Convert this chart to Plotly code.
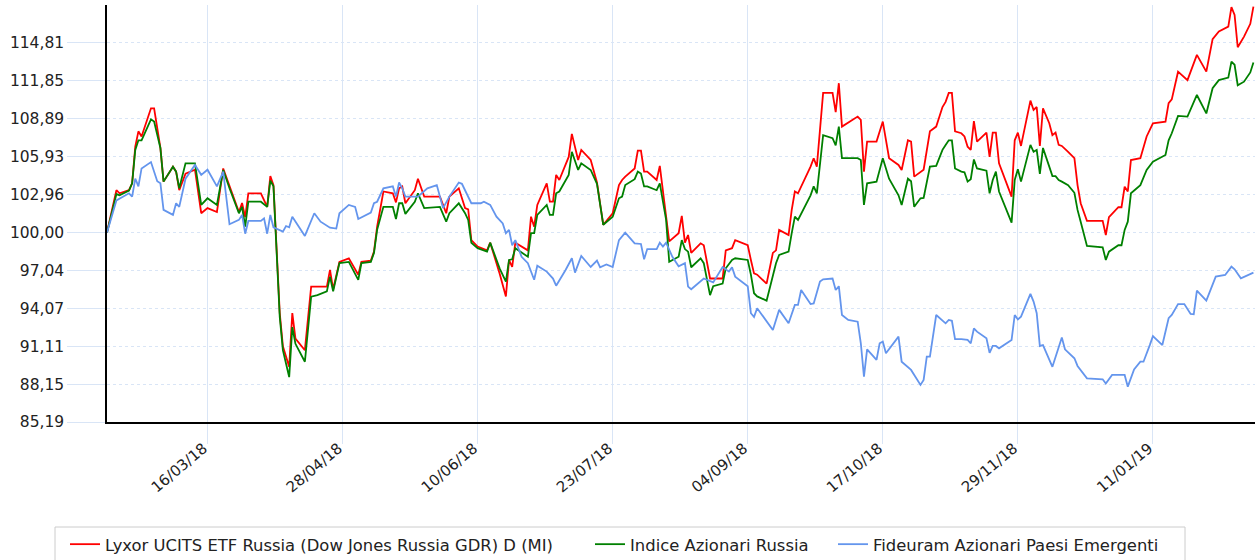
import pandas as pd
import plotly.graph_objects as go

base_date = pd.Timestamp("2018-02-12")

# day offsets from base_date shared by the two Russia series
rg_days = [0, 3, 4, 7, 8, 9, 10, 11, 14, 15, 17, 18, 21, 22, 23, 25, 28, 30, 32, 35,
           37, 39, 42, 43, 44, 45, 49, 51, 52, 53, 55, 56, 58, 59, 60, 63, 65, 67, 70, 71,
           72, 74, 77, 80, 81, 84, 85, 86, 88, 91, 92, 93, 94, 95, 98, 99, 101, 106, 108, 109,
           112, 114, 115, 116, 118, 121, 122, 124, 125, 127, 128, 129, 130, 134, 135, 136, 137, 140, 141, 142,
           143, 144, 147, 148, 150, 151, 154, 156, 158, 161, 163, 164, 165, 168, 169, 170, 171, 172, 175, 176,
           178, 179, 182, 183, 184, 185, 186, 189, 190, 192, 193, 196, 197, 199, 200, 204, 205, 206, 207, 210,
           212, 213, 214, 217, 218, 219, 220, 222, 224, 225, 226, 228, 231, 232, 233, 234, 239, 240, 241, 242,
           245, 247, 249, 252, 253, 255, 256, 257, 259, 260, 262, 264, 266, 267, 268, 269, 270, 272, 273, 274,
           275, 276, 277, 280, 281, 282, 283, 284, 288, 289, 290, 291, 294, 295, 296, 297, 298, 300, 301, 302,
           303, 304, 306, 308, 309, 310, 312, 317, 318, 319, 322, 323, 324, 325, 326, 329, 331, 333, 337, 338,
           339, 341, 344, 347, 350, 352, 354, 357, 358, 359, 360, 362, 364, 365]

lyxor = [100.0, 103.3, 103.06, 103.3, 103.84, 106.7, 107.9, 107.5, 109.7, 109.7, 106.6, 103.97, 105.14, 104.75, 103.3, 104.6, 104.9, 101.5, 101.9, 101.6,
         105.0, 103.6, 101.6, 102.3, 101.2, 103.06, 103.06, 102.0, 104.4, 103.7, 93.7, 91.1, 89.5, 93.7, 91.7, 90.8, 95.77, 95.77, 95.77, 97.07,
         95.56, 97.7, 97.98, 96.7, 97.7, 97.8, 98.5, 100.45, 103.2, 103.06, 102.35, 103.45, 103.6, 102.28, 103.3, 104.2, 102.8, 102.8, 101.5, 102.8,
         103.45, 101.9, 101.8, 99.4, 98.9, 98.6, 99.2, 97.6, 96.8, 95.0, 97.85, 97.3, 99.2, 98.6, 101.23, 100.45, 102.15, 103.84, 102.4, 102.4,
         104.5, 104.1, 105.9, 107.7, 105.66, 106.45, 105.66, 103.9, 100.6, 101.5, 103.7, 104.1, 104.36, 105.0, 106.4, 106.4, 104.75, 104.75, 104.1, 105.2,
         101.5, 99.3, 99.94, 101.3, 99.2, 99.8, 98.4, 99.15, 99.0, 96.4, 96.4, 96.4, 98.6, 98.77, 99.4, 99.0, 97.85, 96.8, 96.7, 96.0,
         98.4, 98.6, 100.2, 99.8, 101.76, 103.2, 103.06, 104.1, 105.14, 105.8, 105.14, 110.9, 110.9, 109.4, 111.66, 108.27, 109.05, 108.8, 104.75, 107.1,
         107.1, 108.66, 105.8, 105.27, 104.88, 107.2, 107.1, 104.36, 104.75, 104.9, 107.9, 108.27, 109.8, 110.2, 110.9, 110.9, 107.9, 107.75, 107.5, 106.7,
         106.45, 108.7, 107.1, 107.8, 105.9, 107.8, 107.8, 105.4, 102.8, 107.2, 107.8, 106.76, 110.3, 109.57, 109.8, 106.76, 109.7, 108.53, 107.6, 107.8,
         106.84, 106.76, 106.3, 105.8, 103.7, 102.28, 100.9, 100.9, 99.8, 101.19, 101.97, 101.97, 103.58, 103.2, 105.66, 105.8, 107.5, 108.53, 108.66, 110.1,
         110.4, 112.56, 111.9, 113.87, 112.56, 115.1, 115.7, 116.08, 117.6, 117.0, 114.47, 115.3, 116.3, 117.64]

indice_russia = [100.0, 103.0, 102.9, 103.27, 103.84, 106.45, 107.2, 107.2, 108.84, 108.66, 106.6, 103.97, 105.14, 104.75, 103.45, 105.4, 105.4, 102.15, 102.67, 102.15,
                 104.88, 103.45, 101.5, 102.0, 100.45, 102.4, 102.4, 102.0, 104.05, 103.6, 93.4, 90.8, 88.7, 92.6, 91.3, 89.9, 94.98, 95.1, 95.4, 96.55,
                 95.4, 97.6, 97.7, 96.3, 97.6, 97.7, 98.4, 100.2, 102.0, 102.0, 101.05, 102.28, 102.28, 101.45, 102.4, 103.06, 101.9, 102.0, 100.84, 101.5,
                 102.28, 101.5, 100.98, 99.2, 98.77, 98.5, 99.2, 97.85, 97.2, 96.16, 97.85, 97.9, 98.77, 98.1, 99.94, 99.94, 101.37, 102.15, 101.37, 101.37,
                 103.06, 103.2, 104.5, 106.3, 104.88, 105.4, 104.88, 103.8, 100.6, 101.23, 102.67, 102.8, 103.7, 104.16, 104.75, 104.6, 103.6, 103.6, 103.3, 103.84,
                 101.0, 97.7, 98.1, 99.4, 98.7, 98.5, 97.28, 97.98, 97.6, 95.1, 95.8, 96.0, 97.2, 97.85, 97.98, 97.85, 96.7, 95.25, 95.0, 94.67,
                 96.55, 97.6, 98.24, 98.5, 99.94, 101.23, 100.98, 102.0, 102.9, 103.6, 103.06, 107.6, 107.36, 106.8, 108.27, 105.8, 105.8, 105.66, 102.15, 103.84,
                 103.97, 105.8, 104.2, 102.9, 102.15, 104.2, 104.0, 102.0, 102.67, 102.7, 105.14, 105.2, 106.45, 106.84, 107.2, 107.2, 105.0, 104.75, 104.7, 103.97,
                 104.16, 105.7, 105.0, 104.83, 103.06, 104.1, 104.75, 103.2, 100.77, 104.1, 104.94, 103.97, 106.84, 106.3, 106.45, 104.57, 106.6, 105.14, 104.4, 104.4,
                 104.1, 103.97, 103.7, 103.1, 101.76, 100.84, 98.95, 98.84, 97.85, 98.5, 99.0, 99.0, 100.2, 100.84, 103.06, 103.7, 104.88, 105.53, 106.05, 107.2,
                 107.75, 109.1, 109.05, 110.74, 109.3, 111.27, 111.9, 112.1, 113.34, 113.1, 111.5, 111.78, 112.5, 113.27]

# day offsets from base_date for the emerging markets fund
em_days = [0, 3, 7, 8, 9, 10, 11, 14, 16, 17, 18, 21, 22, 23, 25, 28, 30, 32, 35, 37,
           39, 42, 43, 44, 45, 49, 50, 51, 52, 53, 56, 57, 58, 59, 63, 66, 68, 71, 73, 74,
           77, 79, 80, 84, 85, 86, 88, 91, 92, 93, 94, 95, 99, 102, 105, 107, 109, 112, 113, 116,
           119, 120, 122, 124, 126, 127, 128, 129, 130, 132, 134, 136, 137, 140, 142, 143, 146, 148, 149, 151,
           154, 156, 157, 159, 161, 163, 165, 168, 170, 171, 172, 175, 176, 177, 178, 180, 182, 184, 185, 186,
           190, 193, 196, 198, 199, 200, 204, 205, 206, 207, 212, 214, 217, 219, 220, 221, 224, 225, 227, 228,
           231, 232, 233, 234, 236, 239, 240, 241, 242, 245, 246, 247, 248, 252, 253, 256, 259, 260, 261, 262,
           264, 267, 268, 269, 270, 272, 274, 275, 276, 277, 280, 281, 282, 283, 284, 288, 289, 290, 291, 294,
           295, 296, 297, 298, 301, 304, 305, 308, 309, 312, 317, 318, 320, 324, 325, 327, 329, 330, 332, 333,
           336, 338, 339, 341, 343, 345, 346, 347, 350, 353, 356, 358, 359, 361, 365]

fideuram_em = [100.0, 102.5, 103.06, 102.8, 104.2, 103.6, 105.0, 105.5, 104.0, 103.84, 101.76, 101.37, 102.28, 102.0, 104.2, 105.27, 104.5, 104.9, 103.6, 104.75,
               100.64, 100.98, 101.37, 99.9, 100.9, 100.9, 101.1, 99.9, 101.37, 100.4, 100.06, 100.5, 100.4, 101.23, 99.73, 101.5, 100.84, 100.37, 100.3, 101.5,
               102.15, 102.0, 101.05, 101.55, 102.28, 102.4, 103.45, 103.6, 102.8, 103.9, 103.45, 102.8, 102.8, 103.45, 103.7, 101.9, 102.8, 103.9, 103.8, 102.28,
               102.28, 102.4, 102.15, 101.23, 100.7, 99.94, 100.2, 99.0, 99.4, 98.1, 97.6, 96.3, 97.4, 96.94, 96.4, 95.84, 97.07, 97.98, 96.86, 98.16,
               97.3, 97.8, 97.28, 97.5, 97.3, 99.4, 99.98, 99.15, 99.1, 97.9, 98.7, 98.7, 99.2, 98.9, 99.2, 98.1, 97.35, 97.6, 95.77, 95.56,
               96.4, 96.1, 97.3, 96.94, 97.28, 96.55, 95.8, 93.69, 93.4, 94.08, 92.38, 93.95, 92.9, 94.34, 94.34, 95.5, 94.4, 94.45, 96.16, 96.34,
               96.4, 95.5, 95.8, 93.55, 93.16, 93.03, 91.34, 88.73, 90.87, 90.04, 91.34, 91.47, 90.56, 91.86, 89.9, 89.26, 88.09, 88.48, 90.3, 90.3,
               93.55, 92.9, 93.16, 93.1, 91.66, 91.66, 91.6, 91.34, 92.5, 92.25, 91.73, 90.6, 91.13, 91.13, 90.95, 91.6, 93.55, 93.2, 93.42, 95.2,
               94.6, 93.69, 91.13, 91.2, 89.5, 91.8, 90.87, 90.17, 89.57, 88.6, 88.53, 88.2, 88.87, 88.87, 87.95, 89.3, 89.9, 89.9, 91.2, 91.9,
               91.2, 93.3, 93.55, 94.4, 94.4, 93.63, 93.6, 95.45, 94.67, 96.55, 96.68, 97.33, 97.12, 96.42, 96.86]

series_names = ["Lyxor UCITS ETF Russia (Dow Jones Russia GDR) D (MI)",
                "Indice Azionari Russia",
                "Fideuram Azionari Paesi Emergenti"]
series_colors = ["#ff0000", "#008000", "#6495ed"]

y_tick_vals = [85.19, 88.15, 91.11, 94.07, 97.04, 100.00, 102.96, 105.93, 108.89, 111.85, 114.81]
y_tick_text = ["85,19", "88,15", "91,11", "94,07", "97,04", "100,00", "102,96", "105,93", "108,89", "111,85", "114,81"]
x_tick_vals = ["2018-03-16", "2018-04-28", "2018-06-10", "2018-07-23", "2018-09-04", "2018-10-17", "2018-11-29", "2019-01-11"]
x_tick_text = ["16/03/18", "28/04/18", "10/06/18", "23/07/18", "04/09/18", "17/10/18", "29/11/18", "11/01/19"]

rg_dates = base_date + pd.to_timedelta(rg_days, unit="D")
em_dates = base_date + pd.to_timedelta(em_days, unit="D")

FONT = "DejaVu Sans"
GRID = "#d9e5f6"

fig = go.Figure()
fig.add_trace(go.Scatter(x=rg_dates, y=lyxor, mode="lines", name=series_names[0],
                         line=dict(color=series_colors[0], width=1.8), legend="legend"))
fig.add_trace(go.Scatter(x=rg_dates, y=indice_russia, mode="lines", name=series_names[1],
                         line=dict(color=series_colors[1], width=1.8), legend="legend2"))
fig.add_trace(go.Scatter(x=em_dates, y=fideuram_em, mode="lines", name=series_names[2],
                         line=dict(color=series_colors[2], width=1.8), legend="legend3"))

W, H = 1257, 560
L, R, T, B = 107, 2, 5, 138
pw, ph = W - L - R, H - T - B


def px_x(p):
    return (p - L) / pw


def px_y(p):
    return (H - B - p) / ph


leg_common = dict(orientation="h", yanchor="top", xanchor="left", bgcolor="rgba(0,0,0,0)",
                  borderwidth=0, font=dict(family=FONT, size=16.4, color="#222222"))

fig.update_layout(
    width=W, height=H,
    margin=dict(l=L, r=R, t=T, b=B, autoexpand=False),
    paper_bgcolor="white", plot_bgcolor="white",
    font=dict(family=FONT, color="#222222"),
    showlegend=True,
    legend=dict(x=px_x(65), y=px_y(527), **leg_common),
    legend2=dict(x=px_x(590), y=px_y(527), **leg_common),
    legend3=dict(x=px_x(833), y=px_y(527), **leg_common),
    xaxis=dict(
        type="date", automargin=False,
        range=["2018-02-12", "2019-02-12 12:00"],
        tickmode="array", tickvals=x_tick_vals, ticktext=x_tick_text,
        tickangle=-40,
        showgrid=True, gridcolor=GRID, gridwidth=1,
        ticks="outside", ticklen=20, tickcolor=GRID, tickwidth=1,
        ticklabelstandoff=-10, ticklabelshift=-4,
        showline=True, linecolor="black", linewidth=1.5,
        tickfont=dict(family=FONT, size=15, color="#222222"),
        zeroline=False,
    ),
    yaxis=dict(
        automargin=False,
        range=[85.19, 117.77],
        tickmode="array", tickvals=y_tick_vals, ticktext=y_tick_text,
        showgrid=True, gridcolor=GRID, gridwidth=1, griddash="dot",
        ticks="outside", ticklen=38, tickcolor=GRID, tickwidth=1,
        showline=True, linecolor="black", linewidth=1.5,
        tickfont=dict(family=FONT, size=15.5, color="#222222"),
        zeroline=False,
    ),
    shapes=[dict(type="rect", xref="paper", yref="paper",
                 x0=px_x(55), x1=px_x(1185), y0=px_y(527), y1=px_y(580),
                 line=dict(color="#cccccc", width=1), fillcolor="rgba(0,0,0,0)")],
)

fig.write_html("out.html", config={"displayModeBar": False},
               post_script="document.body.style.margin='0px';")
